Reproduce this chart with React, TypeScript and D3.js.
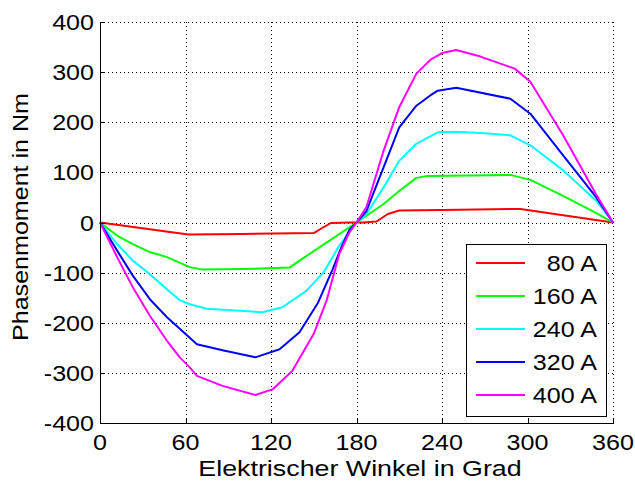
import React from "react";
import * as d3 from "d3";

const xTicks = [0, 60, 120, 180, 240, 300, 360];
const yTicks = [-400, -300, -200, -100, 0, 100, 200, 300, 400];

const seriesNames = ["80 A", "160 A", "240 A", "320 A", "400 A"];
const seriesColors = ["#ff0000", "#00ff00", "#00ffff", "#0000ff", "#ff00ff"];

const redX = [0, 62, 100, 150, 157, 162, 175, 185, 194, 202, 210, 240, 295, 360];
const redY = [0, -24, -23, -21, -9, -1, 0, 0, 2, 17, 24, 25, 27, 0];

const greenX = [0, 12, 23, 35, 47, 63, 72, 100, 133, 140, 160, 180, 199, 210, 222, 230, 260, 288, 302, 325, 348, 360];
const greenY = [0, -26, -43, -59, -69, -89, -94, -93, -90, -76, -38, 0, 37, 63, 89, 93, 94, 95, 85, 53, 19, 0];

const cyanX = [0, 12, 23, 35, 47, 56, 63, 75, 98, 114, 128, 145, 157, 168, 180, 187, 199, 210, 222, 237, 250, 270, 288, 302, 325, 348, 360];
const cyanY = [0, -43, -76, -103, -133, -155, -163, -172, -176, -179, -169, -136, -99, -46, 0, 17, 70, 123, 157, 180, 181, 178, 174, 154, 104, 44, 0];

const blueX = [0, 12, 23, 35, 47, 56, 68, 86, 109, 126, 140, 153, 163, 170, 175, 180, 187, 199, 210, 222, 232, 237, 250, 288, 302, 325, 348, 360];
const blueY = [0, -56, -106, -153, -189, -212, -243, -255, -269, -253, -219, -160, -95, -45, -15, 0, 23, 110, 190, 233, 254, 263, 269, 247, 217, 134, 51, 0];

const magentaX = [0, 12, 23, 35, 47, 56, 63, 68, 86, 109, 121, 135, 150, 159, 168, 175, 180, 187, 199, 210, 222, 232, 240, 250, 267, 291, 302, 325, 348, 360];
const magentaY = [0, -69, -129, -186, -236, -269, -289, -306, -326, -344, -333, -296, -222, -156, -62, -20, 0, 31, 143, 230, 297, 325, 338, 344, 331, 307, 281, 174, 57, 0];

const seriesX = [redX, greenX, cyanX, blueX, magentaX];
const seriesY = [redY, greenY, cyanY, blueY, magentaY];

const W = 635;
const H = 481;
const left = 100;
const right = 613;
const top = 22;
const bottom = 423;

const FONT = "'Liberation Sans', Arial, Helvetica, sans-serif";
const FS = 22;
const SX = 1.14;

export default function App() {
  const x = d3.scaleLinear().domain([0, 360]).range([left, right]);
  const y = d3.scaleLinear().domain([-400, 400]).range([bottom, top]);
  const line = d3
    .line<[number, number]>()
    .x((d) => x(d[0]))
    .y((d) => y(d[1]));

  const legX0 = 466;
  const legY0 = 244;
  const legW = 140;
  const legH = 172;
  const legRowY = (i: number) => 263 + i * 33;

  return (
    <svg
      width={W}
      height={H}
      style={{ position: "absolute", left: 0, top: 0, background: "#fff" }}
      fontFamily={FONT}
    >
      <rect x={0} y={0} width={W} height={H} fill="#fff" />
      {/* grid */}
      <g stroke="#000" strokeWidth={1} strokeDasharray="1,3" shapeRendering="crispEdges">
        {xTicks.map((t) => (
          <line key={"gx" + t} x1={Math.round(x(t)) + 0.5} x2={Math.round(x(t)) + 0.5} y1={top} y2={bottom} />
        ))}
        {yTicks.map((t) => (
          <line key={"gy" + t} x1={left} x2={right} y1={Math.round(y(t)) + 0.5} y2={Math.round(y(t)) + 0.5} />
        ))}
      </g>
      {/* series */}
      <g fill="none" strokeWidth={2} strokeLinejoin="round">
        {seriesX.map((xs, i) => (
          <path
            key={"s" + i}
            d={line(xs.map((v, j) => [v, seriesY[i][j]] as [number, number])) || ""}
            stroke={seriesColors[i]}
          />
        ))}
      </g>
      {/* axes */}
      <g stroke="#000" strokeWidth={1} shapeRendering="crispEdges">
        <line x1={left + 0.5} x2={left + 0.5} y1={top} y2={bottom + 0.5} />
        <line x1={left} x2={right + 1} y1={bottom + 0.5} y2={bottom + 0.5} />
        {xTicks.map((t) => (
          <line key={"tx" + t} x1={Math.round(x(t)) + 0.5} x2={Math.round(x(t)) + 0.5} y1={bottom} y2={bottom - 5} />
        ))}
        {yTicks.map((t) => (
          <line key={"ty" + t} x1={left} x2={left + 5} y1={Math.round(y(t)) + 0.5} y2={Math.round(y(t)) + 0.5} />
        ))}
      </g>
      {/* tick labels */}
      <g fontSize={FS} fill="#000">
        {yTicks.map((t) => (
          <text
            key={"ly" + t}
            transform={`translate(94,${y(t) + 8}) scale(${SX},1)`}
            textAnchor="end"
          >
            {t}
          </text>
        ))}
        {xTicks.map((t) => (
          <text
            key={"lx" + t}
            transform={`translate(${x(t)},450) scale(${SX},1)`}
            textAnchor="middle"
          >
            {t}
          </text>
        ))}
        <text transform={`translate(360,476) scale(1.22,1)`} textAnchor="middle">
          Elektrischer Winkel in Grad
        </text>
        <text transform={`translate(28,217) rotate(-90) scale(${SX},1)`} textAnchor="middle">
          Phasenmoment in Nm
        </text>
      </g>
      {/* legend */}
      <g>
        <rect
          x={legX0 + 0.5}
          y={legY0 + 0.5}
          width={legW}
          height={legH}
          fill="#fff"
          stroke="#000"
          strokeWidth={1}
          shapeRendering="crispEdges"
        />
        {seriesNames.map((name, i) => (
          <g key={"lg" + i}>
            <line x1={476} x2={525} y1={legRowY(i)} y2={legRowY(i)} stroke={seriesColors[i]} strokeWidth={2} />
            <text
              transform={`translate(597,${legRowY(i) + 8}) scale(${SX},1)`}
              textAnchor="end"
              fontSize={FS}
              fill="#000"
            >
              {name}
            </text>
          </g>
        ))}
      </g>
    </svg>
  );
}
